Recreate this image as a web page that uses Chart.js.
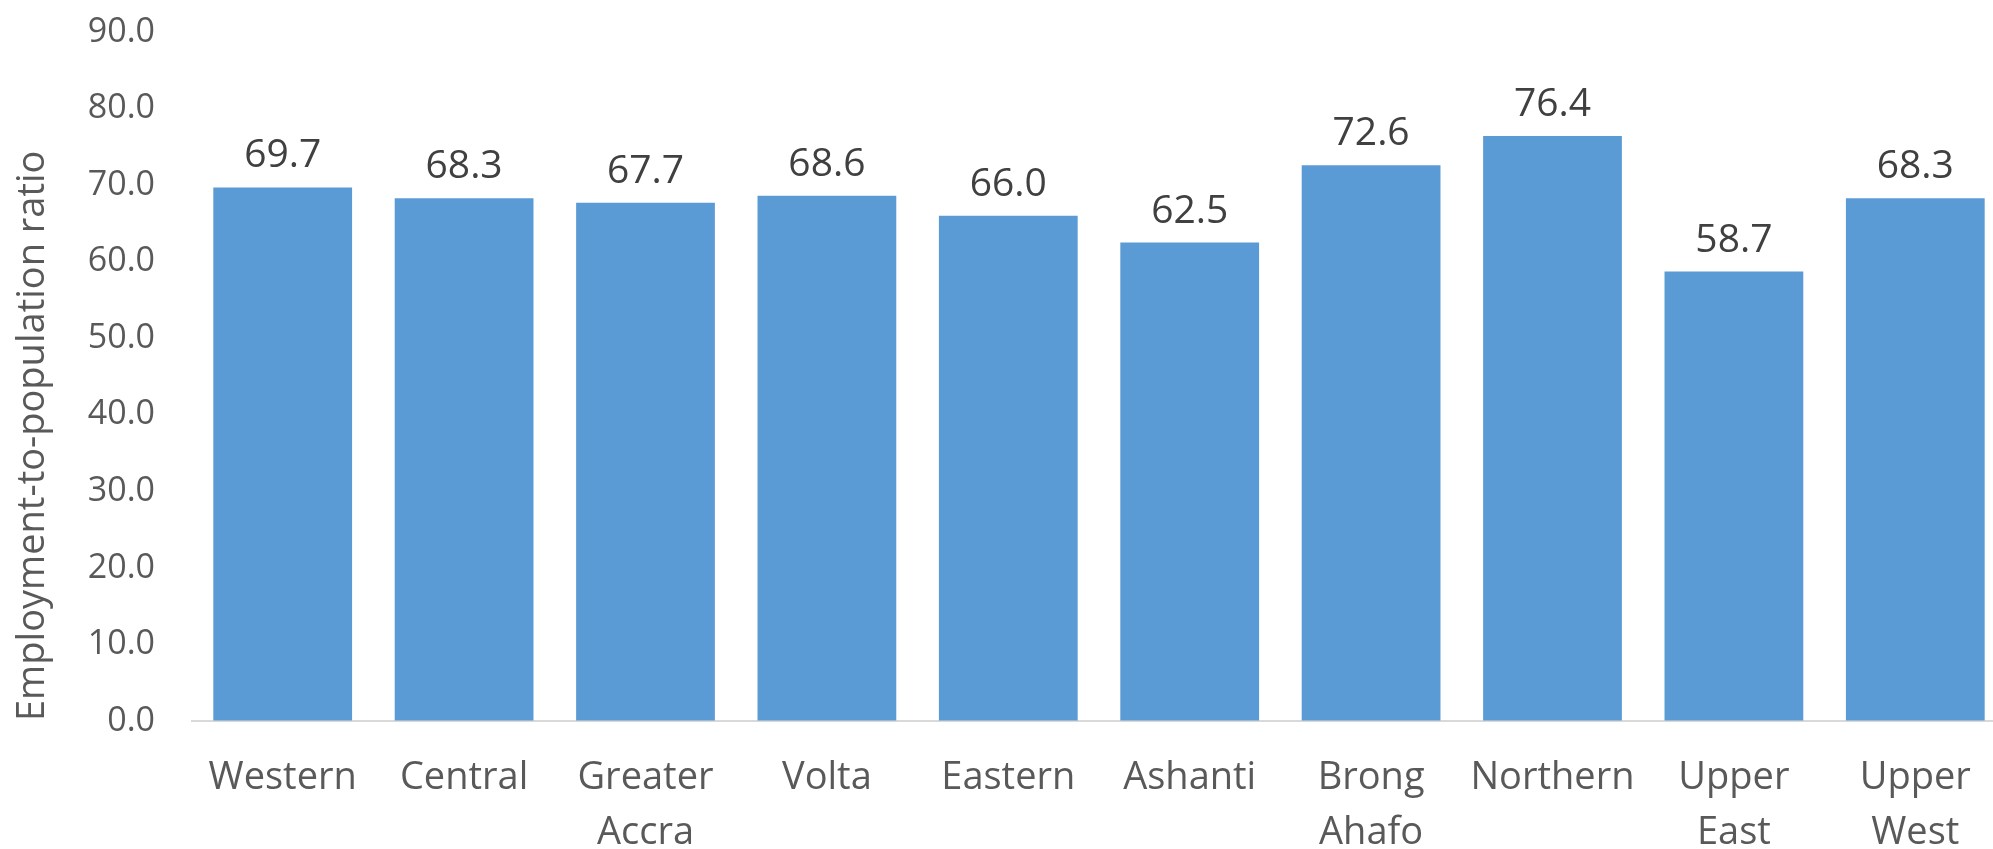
<!DOCTYPE html>
<html>
<head>
<meta charset="utf-8">
<script src="https://cdn.jsdelivr.net/npm/chart.js@4.4.0/dist/chart.umd.min.js"></script>
<style>
    html, body { margin: 0; padding: 0; background: #fff; overflow: hidden; }
    #wrap { width: 2010px; height: 849px; position: relative; }
</style>
</head>
<body>
<div id="wrap"><canvas id="chart1"></canvas></div>
<script>
var regions = ["Western", "Central", ["Greater", "Accra"], "Volta", "Eastern", "Ashanti",
    ["Brong", "Ahafo"], "Northern", ["Upper", "East"], ["Upper", "West"]];
var ratios = [69.7, 68.3, 67.7, 68.6, 66.0, 62.5, 72.6, 76.4, 58.7, 68.3];
var yTicks = [0, 10, 20, 30, 40, 50, 60, 70, 80, 90];

// value labels above each bar
var barLabels = {
    id: 'barLabels',
    afterDatasetsDraw: function (chart) {
        var ctx = chart.ctx;
        var meta = chart.getDatasetMeta(0);
        ctx.save();
        ctx.font = '39px "Open Sans"';
        ctx.fillStyle = '#404040';
        ctx.textAlign = 'center';
        ctx.textBaseline = 'alphabetic';
        meta.data.forEach(function (bar, i) {
            ctx.fillText(ratios[i].toFixed(1), bar.x, bar.y - 20);
        });
        ctx.restore();
    }
};

var ctxChart1 = document.getElementById('chart1').getContext('2d');
var chart1 = new Chart(ctxChart1, {
    type: 'bar',
    plugins: [barLabels],
    data: {
        labels: regions,
        datasets: [{
            data: ratios,
            backgroundColor: '#5b9bd5',
            categoryPercentage: 1,
            barPercentage: 0.765
        }]
    },
    options: {
        responsive: true,
        maintainAspectRatio: false,
        animation: false,
        layout: { padding: { top: 32, right: 4, left: 0, bottom: 0 } },
        plugins: {
            legend: { display: false },
            title: { display: false },
            tooltip: { enabled: false }
        },
        scales: {
            x: {
                grid: { display: false },
                border: { display: true, color: '#d9d9d9', width: 2 },
                ticks: {
                    color: '#595959',
                    font: { family: 'Open Sans', size: 38, lineHeight: 1.45 },
                    padding: 22,
                    maxRotation: 0,
                    autoSkip: false
                },
                afterFit: function (scale) { scale.height = 128; }
            },
            y: {
                min: 0,
                max: 90,
                // invisible tick marks only push the labels left
                grid: { display: true, drawOnChartArea: false, color: 'rgba(0,0,0,0)', tickLength: 34 },
                border: { display: false },
                afterBuildTicks: function (scale) {
                    scale.ticks = yTicks.map(function (v) { return { value: v }; });
                },
                ticks: {
                    color: '#595959',
                    font: { family: 'Open Sans', size: 34 },
                    padding: 3,
                    callback: function (v) { return Number(v).toFixed(1); }
                },
                title: {
                    display: true,
                    text: 'Employment-to-population ratio',
                    align: 'start',
                    color: '#595959',
                    font: { family: 'Open Sans', size: 38 },
                    padding: { top: 10, bottom: 0 }
                },
                afterFit: function (scale) { scale.width = 192; }
            }
        }
    }
});
</script>
</body>
</html>
